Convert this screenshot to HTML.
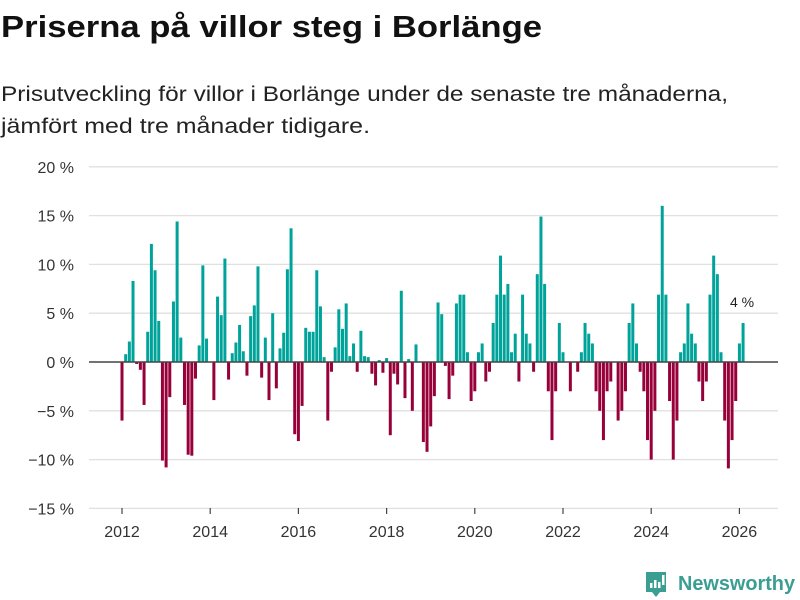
<!DOCTYPE html>
<html><head><meta charset="utf-8"><style>
body{margin:0;background:#fff;}
svg{display:block;font-family:"Liberation Sans","DejaVu Sans",sans-serif;}
</style></head><body>
<svg id="chart" width="800" height="600" viewBox="0 0 800 600">
<text x="1" y="37" font-size="31" font-weight="bold" fill="#111" textLength="541" lengthAdjust="spacingAndGlyphs">Priserna på villor steg i Borlänge</text>
<text x="1" y="101" font-size="21" fill="#222" textLength="727" lengthAdjust="spacingAndGlyphs">Prisutveckling för villor i Borlänge under de senaste tre månaderna,</text>
<text x="1" y="133" font-size="21" fill="#222" textLength="369" lengthAdjust="spacingAndGlyphs">jämfört med tre månader tidigare.</text>
<g id="grid"></g><g id="bars"></g><g id="xaxis"></g>
<text x="730" y="307" font-size="14" fill="#222">4 %</text>
<g>
<path d="M646 572 h20 v20 h-6 l-4 5 l-4 -5 h-6 z" fill="#3a9e92"/>
<rect x="650" y="583" width="2.5" height="5" fill="#fff"/><rect x="654" y="580" width="2.5" height="8" fill="#fff"/><rect x="658" y="582" width="2.5" height="6" fill="#fff"/><rect x="662" y="575" width="2.5" height="10" fill="#fff"/>
<text x="678" y="590" font-size="20" font-weight="bold" fill="#3a9e92" textLength="117" lengthAdjust="spacingAndGlyphs">Newsworthy</text>
</g>
</svg>
<script>
const startYear = 2012;
const values = [-6.0,0.8,2.1,8.3,-0.2,-0.8,-4.4,3.1,12.1,9.4,4.2,-10.1,
-10.8,-3.6,6.2,14.4,2.5,-4.4,-9.5,-9.6,-1.7,1.7,9.9,2.4,
0,-3.9,6.7,4.8,10.6,-1.8,0.9,2.0,3.8,1.1,-1.4,4.7,
5.8,9.8,-1.6,2.5,-3.9,5.0,-2.7,1.4,3.0,9.5,13.7,-7.4,
-8.1,-4.5,3.5,3.1,3.1,9.4,5.7,0.5,-6.0,-1.0,1.5,5.4,
3.4,6.0,0.6,1.9,-1.0,3.2,0.6,0.5,-1.2,-2.4,0.2,-1.1,
0.4,-7.5,-1.2,-2.3,7.3,-3.7,0.3,-5.0,1.8,0,-8.2,-9.2,
-6.6,-3.5,6.1,4.9,-0.4,-3.8,-1.4,6.0,6.9,6.9,1.0,-4.0,
-3.0,1.0,1.9,-2.0,-1.0,4.0,6.9,10.9,6.9,8.0,1.0,2.9,
-2.0,6.9,2.9,1.9,-1.0,9.0,14.9,8.0,-3.0,-8.0,-3.0,4.0,
1.0,0,-3.0,0,-1.0,1.0,4.0,2.9,1.9,-3.0,-5.0,-8.0,
-3.0,-2.0,0,-6.0,-5.0,-3.0,4.0,6.0,1.9,-1.0,-3.0,-8.0,
-10.0,-5.0,6.9,16.0,6.9,-4.0,-10.0,-6.0,1.0,1.9,6.0,2.9,
1.9,-2.0,-4.0,-2.0,6.9,10.9,9.0,1.0,-6.0,-10.9,-8.0,-4.0,
1.9,4.0];
const yTicks = [20,15,10,5,0,-5,-10,-15];
const yearTicks = [2012,2014,2016,2018,2020,2022,2024,2026];
const NS="http://www.w3.org/2000/svg";
const xScale = m => 122 + m*3.675;
const yScale = v => 362 - v*9.76;
const grid=document.getElementById('grid'), bars=document.getElementById('bars'), xa=document.getElementById('xaxis');
function mk(tag,attrs,parent){const e=document.createElementNS(NS,tag);for(const k in attrs)e.setAttribute(k,attrs[k]);parent.appendChild(e);return e;}
yTicks.forEach(t=>{
  const y=yScale(t);
  if(t!==0){const l=mk('line',{x1:89,x2:778,y1:y,y2:y,stroke:'#e0e0e0','stroke-width':1.3},grid);
  
  }
  const tx=mk('text',{x:74,y:y+6,'text-anchor':'end','font-size':16,fill:'#333'},grid);
  tx.textContent=(t<0?'\u2212'+(-t):t)+' %';
  
  
});
values.forEach((v,i)=>{
  const x=xScale(i), y0=yScale(0), y1=yScale(v);
  const r=mk('rect',{x:x-1.5,y:Math.min(y0,y1),width:3,height:Math.abs(y1-y0),fill:v>=0?'#00a39a':'#970039'},bars);
  
  
});
const zl=mk('line',{x1:89,x2:778,y1:yScale(0),y2:yScale(0),stroke:'#444','stroke-width':1.5},xa);


yearTicks.forEach(yr=>{
  const x=xScale((yr-startYear)*12);
  const tk=mk('line',{x1:x,x2:x,y1:508,y2:514,stroke:'#444','stroke-width':1.2},xa);
  
  
  const tx=mk('text',{x:x,y:537,'text-anchor':'middle','font-size':16,fill:'#333'},xa);
  tx.textContent=yr;
  
  
});
</script>
</body></html>
